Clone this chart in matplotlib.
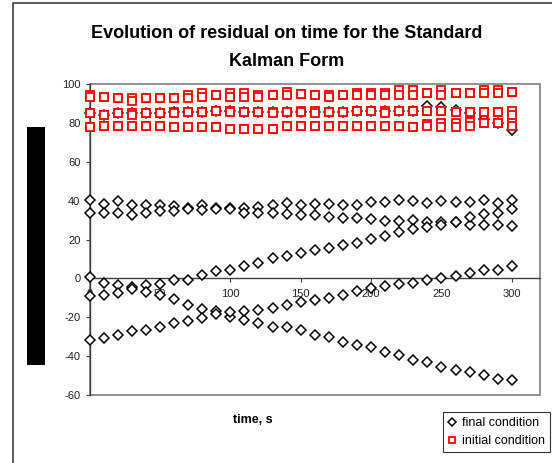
import matplotlib
matplotlib.use("Agg")
import matplotlib.pyplot as plt
from matplotlib.patches import Rectangle
from matplotlib.lines import Line2D

plt.rcParams['font.family'] = ['Liberation Sans', 'DejaVu Sans']
plt.rcParams['axes.unicode_minus'] = False

# ---- data ----
time = list(range(0, 310, 10))

# final condition (black diamonds)
final_a = [40.5, 38.4, 39.8, 37.5, 37.5, 37.5, 37.0, 36.2, 37.5, 36.2, 36.2, 36.2, 36.7, 37.5, 38.8, 37.5,
           38.4, 38.4, 38.0, 38.0, 39.3, 39.3, 40.1, 39.8, 38.8, 39.8, 39.3, 39.3, 40.1, 38.8, 40.1]
final_b = [33.6, 33.6, 33.6, 32.4, 33.6, 34.5, 34.5, 35.5, 35.0, 35.8, 35.8, 33.6, 33.6, 33.6, 33.1, 32.4,
           32.4, 31.8, 31.2, 31.2, 30.7, 29.5, 29.5, 30.1, 29.0, 29.0, 29.0, 27.6, 27.6, 27.6, 26.9]
final_c = [0.9, -2.2, -3.4, -4.3, -3.4, -2.9, -0.8, -0.8, 1.9, 3.6, 4.3, 6.2, 8.0, 10.5, 11.4, 13.0,
           14.8, 15.7, 17.4, 18.1, 20.5, 22.0, 23.8, 25.2, 26.4, 27.7, 29.0, 31.5, 33.3, 33.8, 35.5]
final_d = [-9.0, -8.5, -7.7, -5.6, -7.2, -8.5, -10.7, -13.7, -15.8, -17.0, -20.1, -21.5, -23.2, -24.9, -24.9, -26.6,
           -29.2, -30.1, -32.6, -34.4, -35.2, -37.8, -39.5, -42.1, -43.0, -45.5, -47.3, -48.1, -49.8, -51.6, -52.4]
final_e = [-31.8, -30.9, -29.2, -27.3, -26.6, -24.9, -23.2, -22.1, -20.6, -18.4, -17.5, -17.0, -16.3, -15.3, -13.5, -12.0,
           -11.1, -10.3, -8.4, -6.7, -4.9, -4.1, -2.9, -2.3, -0.8, 0.0, 1.1, 2.8, 4.4, 4.4, 6.2]
final_f = [84.9, 84.0, 84.9, 84.9, 84.9, 84.9, 85.4, 85.4, 85.4, 86.3, 86.3, 85.4, 85.4, 85.4, 85.4, 85.8,
           85.6, 85.4, 85.4, 86.3, 86.3, 86.3, 86.3, 86.3, 88.5, 88.0, 86.8, 85.0, 82.0, 79.7, 76.3]

# initial condition (red squares)
init_top1 = [94.3, 93.5, 92.6, 92.6, 93.0, 93.0, 93.0, 94.3, 95.2, 94.3, 95.2, 95.2, 94.3, 94.3, 96.1, 94.9,
             94.3, 94.3, 94.3, 95.5, 95.5, 95.5, 96.9, 96.9, 95.2, 96.9, 95.2, 95.2, 96.9, 96.9, 96.1]
init_top2 = [93.5, 93.5, 92.6, 91.4, 93.0, 93.0, 93.0, 92.6, 93.5, 94.3, 93.5, 93.5, 93.2, 94.3, 94.3, 94.9,
             94.3, 93.5, 94.3, 94.3, 94.3, 94.3, 94.3, 94.3, 95.2, 94.3, 95.2, 95.2, 95.2, 95.2, 96.1]
init_mid1 = [84.9, 84.0, 84.9, 84.9, 84.9, 84.9, 85.8, 85.4, 85.4, 86.3, 86.3, 85.4, 85.4, 85.4, 85.4, 86.3,
             86.3, 85.4, 85.4, 86.3, 86.3, 86.3, 86.3, 86.3, 86.3, 86.3, 85.4, 85.8, 85.8, 85.4, 86.3]
init_mid2 = [84.9, 84.0, 84.9, 84.0, 84.9, 84.9, 84.9, 85.4, 85.4, 86.3, 85.4, 85.4, 85.4, 84.9, 85.4, 85.8,
             84.9, 85.4, 85.4, 86.3, 86.3, 84.9, 86.3, 86.3, 86.3, 86.3, 85.4, 85.8, 85.8, 85.4, 84.0]
init_low1 = [77.7, 78.4, 78.4, 78.4, 78.4, 78.4, 77.7, 77.7, 77.7, 77.7, 76.7, 76.7, 76.7, 76.7, 78.4, 78.4,
             78.4, 78.4, 78.4, 78.4, 78.4, 78.4, 78.4, 77.7, 79.4, 79.8, 79.8, 80.6, 79.8, 79.8, 79.8]
init_low2 = [77.7, 78.4, 78.4, 78.4, 78.4, 78.4, 77.7, 77.7, 77.7, 77.7, 76.7, 76.7, 76.7, 76.7, 78.4, 78.4,
             78.4, 78.4, 78.4, 78.4, 78.4, 78.4, 78.4, 77.7, 78.4, 77.7, 77.7, 78.4, 79.8, 79.8, 78.4]

final_series = [final_a, final_b, final_c, final_d, final_e, final_f]
init_series = [init_top1, init_top2, init_mid1, init_mid2, init_low1, init_low2]

title_l1 = "Evolution of residual on time for the Standard"
title_l2 = "Kalman Form"
xlabel = "time, s"
legend_labels = ["final condition", "initial condition"]
xticks = [0, 50, 100, 150, 200, 250, 300]
yticks = [-60, -40, -20, 0, 20, 40, 60, 80, 100]

# ---- figure ----
W, H = 552, 463
fig = plt.figure(figsize=(W / 100, H / 100), dpi=100)
ax = fig.add_axes([89.5 / W, 1 - 395 / H, (540 - 89.5) / W, (395 - 84) / H])

for s in final_series:
    ax.plot(time, s, linestyle='none', marker='D', markersize=5.0, markerfacecolor='white',
            markeredgecolor='black', markeredgewidth=1.1, zorder=3, clip_on=False)
for s in init_series:
    ax.plot(time, s, linestyle='none', marker='s', markersize=5.3, markerfacecolor='white',
            markeredgecolor='#ff0000', markeredgewidth=1.3, zorder=4, clip_on=False)

ax.set_xlim(0, 320)
ax.set_ylim(-60, 100)
ax.set_xticks(xticks)
ax.set_yticks(yticks)

for side in ['top', 'right']:
    ax.spines[side].set_visible(False)
ax.spines['bottom'].set_position(('data', 0))
ax.spines['bottom'].set_color('#404040')
ax.spines['left'].set_color('#404040')
ax.spines['bottom'].set_linewidth(1.0)
ax.spines['left'].set_linewidth(1.0)

# plot area border (gray)
ax.add_patch(Rectangle((0, 0), 1, 1, transform=ax.transAxes, fill=False,
                       edgecolor='#909090', linewidth=1.4, zorder=0.5, clip_on=False))

ax.tick_params(axis='both', direction='out', length=3, width=0.8, color='#404040',
               labelsize=8, labelcolor='#222222')
ax.tick_params(axis='x', pad=5)
ax.tick_params(axis='y', pad=3.5)

# titles and labels
fig.text(287 / W, 1 - 37.5 / H, title_l1, ha='center', va='baseline', fontsize=13, fontweight='bold')
fig.text(287 / W, 1 - 66.5 / H, title_l2, ha='center', va='baseline', fontsize=13, fontweight='bold')
fig.text(253 / W, 1 - 420 / H, xlabel, ha='center', va='center', fontsize=9, fontweight='bold')

# black bar (y-axis title area)
fig.patches.append(Rectangle((26.7 / W, 1 - 365 / H), 18.3 / W, 238.3 / H, transform=fig.transFigure,
                             facecolor='black', edgecolor='none'))
# chart area border
fig.lines.append(Line2D([12.7 / W, 12.7 / W, 1.0], [0.0, 1 - 3 / H, 1 - 3 / H], transform=fig.transFigure,
                        color='#404040', linewidth=1.2))

handles = [Line2D([], [], linestyle='none', marker='D', markersize=4.2, markerfacecolor='white',
                  markeredgecolor='black', markeredgewidth=1.1),
           Line2D([], [], linestyle='none', marker='s', markersize=4.6, markerfacecolor='white',
                  markeredgecolor='#ff0000', markeredgewidth=1.3)]
leg = fig.legend(handles, legend_labels, loc='upper left', bbox_to_anchor=(443 / W, 1 - 412 / H),
                 fontsize=9, frameon=True, fancybox=False, edgecolor='black', borderpad=0.4,
                 handlelength=0.7, handletextpad=0.4, labelspacing=0.5, borderaxespad=0)
leg.get_frame().set_linewidth(0.8)

fig.savefig('out.png', dpi=100)
